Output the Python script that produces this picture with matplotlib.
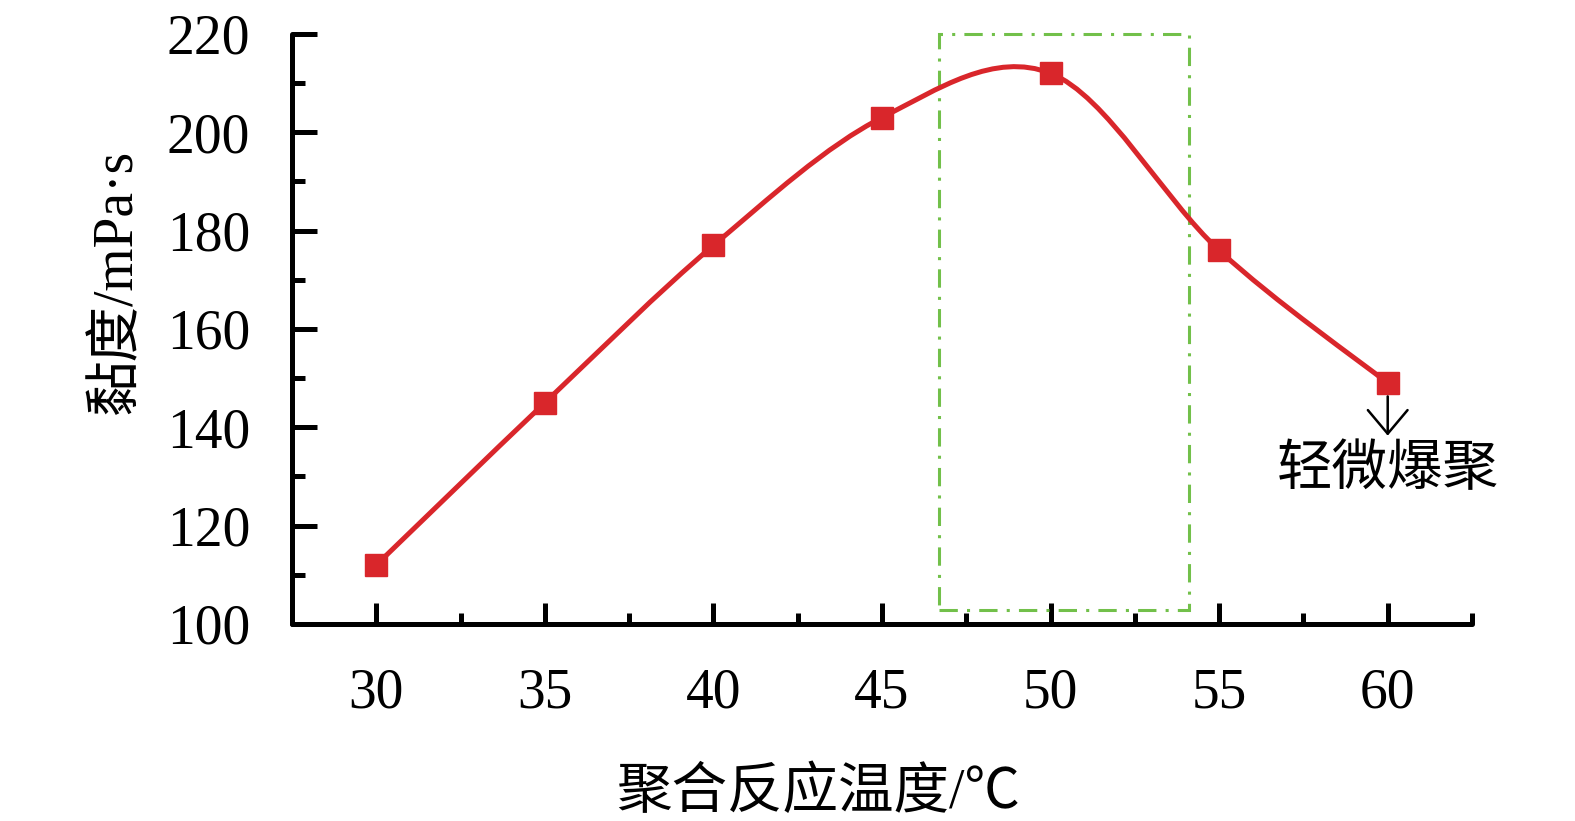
import matplotlib
matplotlib.use('Agg')
import matplotlib.pyplot as plt
from matplotlib.path import Path
from matplotlib.patches import PathPatch, Rectangle
import numpy as np

plt.rcParams['font.family'] = ['Liberation Serif', 'Noto Sans CJK SC']

temps = [30, 35, 40, 45, 50, 55, 60]
viscosity = [112, 145, 177, 203, 212, 176, 149]
x_ticks = [30, 35, 40, 45, 50, 55, 60]
y_ticks = [100, 120, 140, 160, 180, 200, 220]
box_x = [46.7, 54.1]
box_y = [102.8, 220]
note = '轻微爆聚'

red = '#d9262b'
green = '#72c04a'

fig = plt.figure(figsize=(15.75, 8.21), dpi=100)
ax = fig.add_axes([0.1854, 0.24, 0.7492, 0.7186])

# smoothed line like the spreadsheet one: bezier segments through the points
pts = np.column_stack([temps, viscosity]).astype(float)
n = len(pts)
verts = [pts[0]]
codes = [Path.MOVETO]
for i in range(n - 1):
	p0 = pts[max(i - 1, 0)]
	p1 = pts[i]
	p2 = pts[i + 1]
	p3 = pts[min(i + 2, n - 1)]
	verts += [p1 + (p2 - p0) / 6, p2 - (p3 - p1) / 6, p2]
	codes += [Path.CURVE4] * 3
ax.add_patch(PathPatch(Path(verts, codes), fill=False, edgecolor=red, lw=3.6, zorder=3))
ax.plot(temps, viscosity, ls='none', marker='s', ms=15.5, color=red, zorder=4)

ax.add_patch(Rectangle((box_x[0], box_y[0]), box_x[1] - box_x[0], box_y[1] - box_y[0],
	fill=False, edgecolor=green, lw=2.2, ls=(0, (6, 3, 1, 3)), clip_on=False, zorder=2))

ax.annotate('', xy=(temps[-1], 138.3), xytext=(temps[-1], 146.3),
	arrowprops=dict(arrowstyle='->,head_length=0.5,head_width=0.42', color='black',
		lw=1.8, mutation_scale=34, shrinkA=0, shrinkB=0))
ax.text(temps[-1], 131.0, note, ha='center', va='center', fontsize=40)

ax.set_xlim(27.5, 62.5)
ax.set_ylim(100, 220)
ax.set_xticks(x_ticks)
ax.set_xticks(np.arange(32.5, 63, 5), minor=True)
ax.set_yticks(y_ticks)
ax.set_yticks(np.arange(110, 220, 20), minor=True)

for s in ['top', 'right']:
	ax.spines[s].set_visible(False)
for s in ['left', 'bottom']:
	ax.spines[s].set_linewidth(3.6)
	ax.spines[s].set_capstyle('round')

ax.tick_params(axis='x', which='major', direction='in', length=15, width=3.6, pad=31, labelsize=40)
ax.tick_params(axis='x', which='minor', direction='in', length=8, width=3.6)
ax.tick_params(axis='y', which='major', direction='in', length=18, width=3.6, pad=30, labelsize=40)
ax.tick_params(axis='y', which='minor', direction='in', length=9, width=3.6)

ax.set_xlabel('聚合反应温度/℃', fontsize=40)
ax.set_ylabel('黏度/mPa·s', fontsize=40)
ax.xaxis.set_label_coords(0.446, -0.243)
ax.yaxis.set_label_coords(-0.126, 0.58)

fig.savefig('out.png', dpi=100)
